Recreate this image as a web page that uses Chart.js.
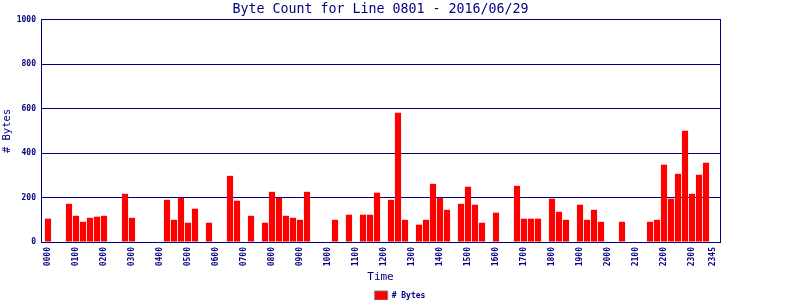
<!DOCTYPE html>
<html><head><meta charset="utf-8">
<script src="https://cdn.jsdelivr.net/npm/chart.js@4/dist/chart.umd.min.js"></script>
<style>html,body{margin:0;padding:0;background:#fff}#wrap{width:800px;height:300px;position:relative}</style>
</head><body><div id="wrap"><canvas id="c"></canvas></div>
<script>
const times = [
 "0000","0015","0030","0045","0100","0115","0130","0145","0200","0215","0230","0245",
 "0300","0315","0330","0345","0400","0415","0430","0445","0500","0515","0530","0545",
 "0600","0615","0630","0645","0700","0715","0730","0745","0800","0815","0830","0845",
 "0900","0915","0930","0945","1000","1015","1030","1045","1100","1115","1130","1145",
 "1200","1215","1230","1245","1300","1315","1330","1345","1400","1415","1430","1445",
 "1500","1515","1530","1545","1600","1615","1630","1645","1700","1715","1730","1745",
 "1800","1815","1830","1845","1900","1915","1930","1945","2000","2015","2030","2045",
 "2100","2115","2130","2145","2200","2215","2230","2245","2300","2315","2330","2345"];
const bytes = [
 105,0,0,172,118,91,109,114,118,0,0,217,
 109,0,0,0,0,190,100,199,87,150,0,87,
 0,0,298,186,0,118,0,87,226,199,118,109,
 100,226,0,0,0,100,0,123,0,123,123,222,
 0,190,582,100,0,78,100,262,199,145,0,172,
 249,168,87,0,132,0,0,253,105,105,105,0,
 195,136,100,0,168,100,145,91,0,0,91,0,
 0,0,91,100,348,195,307,501,217,303,357,0];
const tickLabels = ["0000","0100","0200","0300","0400","0500","0600","0700","0800","0900","1000","1100",
 "1200","1300","1400","1500","1600","1700","1800","1900","2000","2100","2200","2300","2345"];
const yTicks = [0,200,400,600,800,1000];
const seriesName = "# Bytes";
const titleText = "Byte Count for Line 0801 - 2016/06/29";

const NAVY = '#000080';
const MONO = "'DejaVu Sans Mono', monospace";
const tickFont = {family: MONO, size: 8, weight: 'bold'};

new Chart(document.getElementById('c'), {
  type: 'bar',
  data: {
    datasets: [{
      label: seriesName,
      data: bytes.map((v, i) => ({x: i, y: v})),
      backgroundColor: '#FF0000',
      borderWidth: 0,
      barPercentage: 0.88,
      categoryPercentage: 1,
      xAxisID: 'x', yAxisID: 'y'
    }]
  },
  options: {
    responsive: true,
    maintainAspectRatio: false,
    animation: false,
    layout: {padding: {top: 0, left: 0, right: 0, bottom: -10}},
    plugins: {
      tooltip: {enabled: false},
      title: {
        display: true, text: titleText, color: NAVY, fullSize: false,
        font: {family: MONO, size: 13.3, weight: 'normal'},
        padding: {top: 1.5, bottom: 2.5}
      },
      legend: {
        position: 'bottom',
        labels: {
          boxWidth: 13, boxHeight: 9, padding: 2, color: NAVY, font: tickFont,
          generateLabels: chart => {
            const items = Chart.defaults.plugins.legend.labels.generateLabels(chart);
            items.forEach(it => { it.fillStyle = '#FF0000'; it.strokeStyle = '#808080'; it.lineWidth = 1; });
            return items;
          }
        }
      }
    },
    scales: {
      x: {
        type: 'linear', min: -1, max: 96, offset: false,
        afterBuildTicks: s => { s.ticks = tickLabels.map(l => ({value: times.indexOf(l)})); },
        ticks: {autoSkip: false, minRotation: 90, maxRotation: 90, padding: 5, color: NAVY, font: tickFont,
                callback: v => times[v]},
        grid: {display: false, drawTicks: false},
        border: {display: true, color: NAVY},
        title: {display: true, text: 'Time', color: NAVY, font: {family: MONO, size: 11}, padding: {top: 0, bottom: 5}},
        afterFit: s => { s.height = 47; }
      },
      y: {
        position: 'left', min: 0, max: 1000,
        afterBuildTicks: s => { s.ticks = yTicks.map(v => ({value: v})); },
        ticks: {color: NAVY, font: tickFont, padding: 5, callback: v => String(v)},
        grid: {color: NAVY, lineWidth: 1, drawTicks: false},
        border: {display: true, color: NAVY},
        title: {display: true, text: seriesName, color: NAVY, font: {family: MONO, size: 10.5}, padding: {top: 1, bottom: 0}},
        afterFit: s => { s.width = 41; }
      },
      y2: {
        position: 'right', min: 0, max: 1000,
        ticks: {display: false},
        grid: {display: false, drawTicks: false},
        border: {display: true, color: NAVY},
        afterFit: s => { s.width = 80; }
      }
    }
  }
});
</script>
</body></html>
